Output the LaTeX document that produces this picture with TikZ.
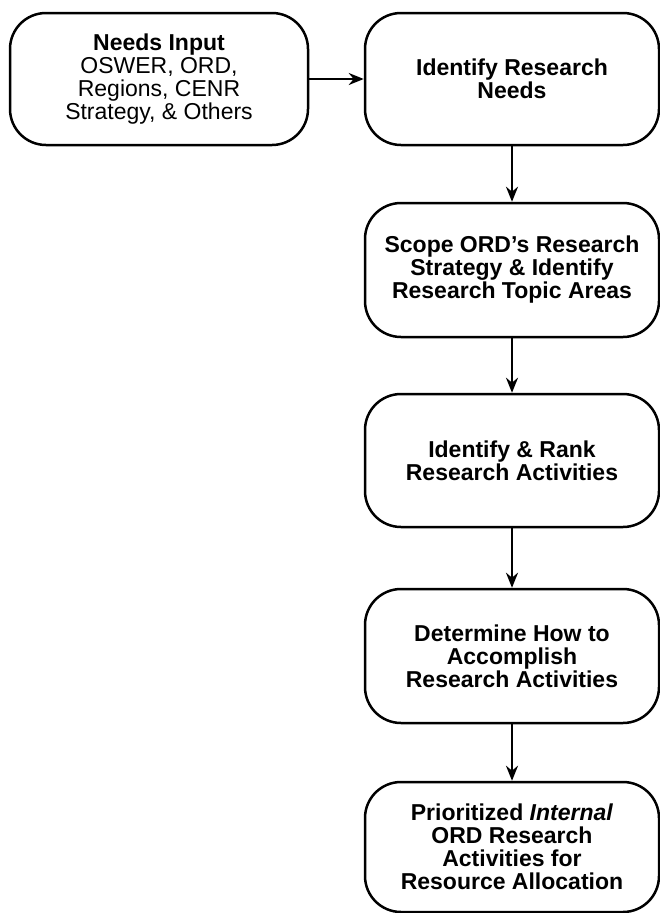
\documentclass[tikz,border=0pt]{standalone}
\usepackage{fontspec}
\setmainfont{Liberation Sans}
\usetikzlibrary{arrows.meta,positioning}

\tikzset{
  stage/.style={draw, line width=2.5pt, rounded corners=36pt, align=center,
    minimum width=294pt, minimum height=133pt, inner sep=0pt,
    font=\fontsize{23}{23}\selectfont\bfseries},
  flow/.style={line width=2.3pt, -{Stealth[length=15pt,width=12pt]}}
}

\begin{document}
\begin{tikzpicture}[x=1pt,y=-1pt]
\useasboundingbox (0,0) rectangle (660,913);

\node[stage, minimum width=298pt, minimum height=132pt,
  font=\fontsize{23}{23}\selectfont] (needs) at (159,79)
  {\textbf{Needs Input}\\OSWER, ORD,\\Regions, CENR\\Strategy, \& Others};
\node[stage, minimum height=132pt] (ident) at (512,79) {Identify Research\\Needs};
\node[stage, minimum height=134pt] (scope) at (512,270)
  {Scope ORD’s Research\\Strategy \& Identify\\Research Topic Areas};
\node[stage] (rank) at (512,460.5) {Identify \& Rank\\Research Activities};
\node[stage, minimum height=134pt] (how) at (512,656)
  {Determine How to\\Accomplish\\Research Activities};
\node[stage, minimum height=130pt] (prior) at (512,847)
  {Prioritized \textit{Internal}\\ORD Research\\Activities for\\Resource Allocation};

\draw[flow] (needs) -- (ident);
\draw[flow] (ident) -- (scope);
\draw[flow] (scope) -- (rank);
\draw[flow] (rank) -- (how);
\draw[flow] (how) -- (prior);

\end{tikzpicture}
\end{document}
